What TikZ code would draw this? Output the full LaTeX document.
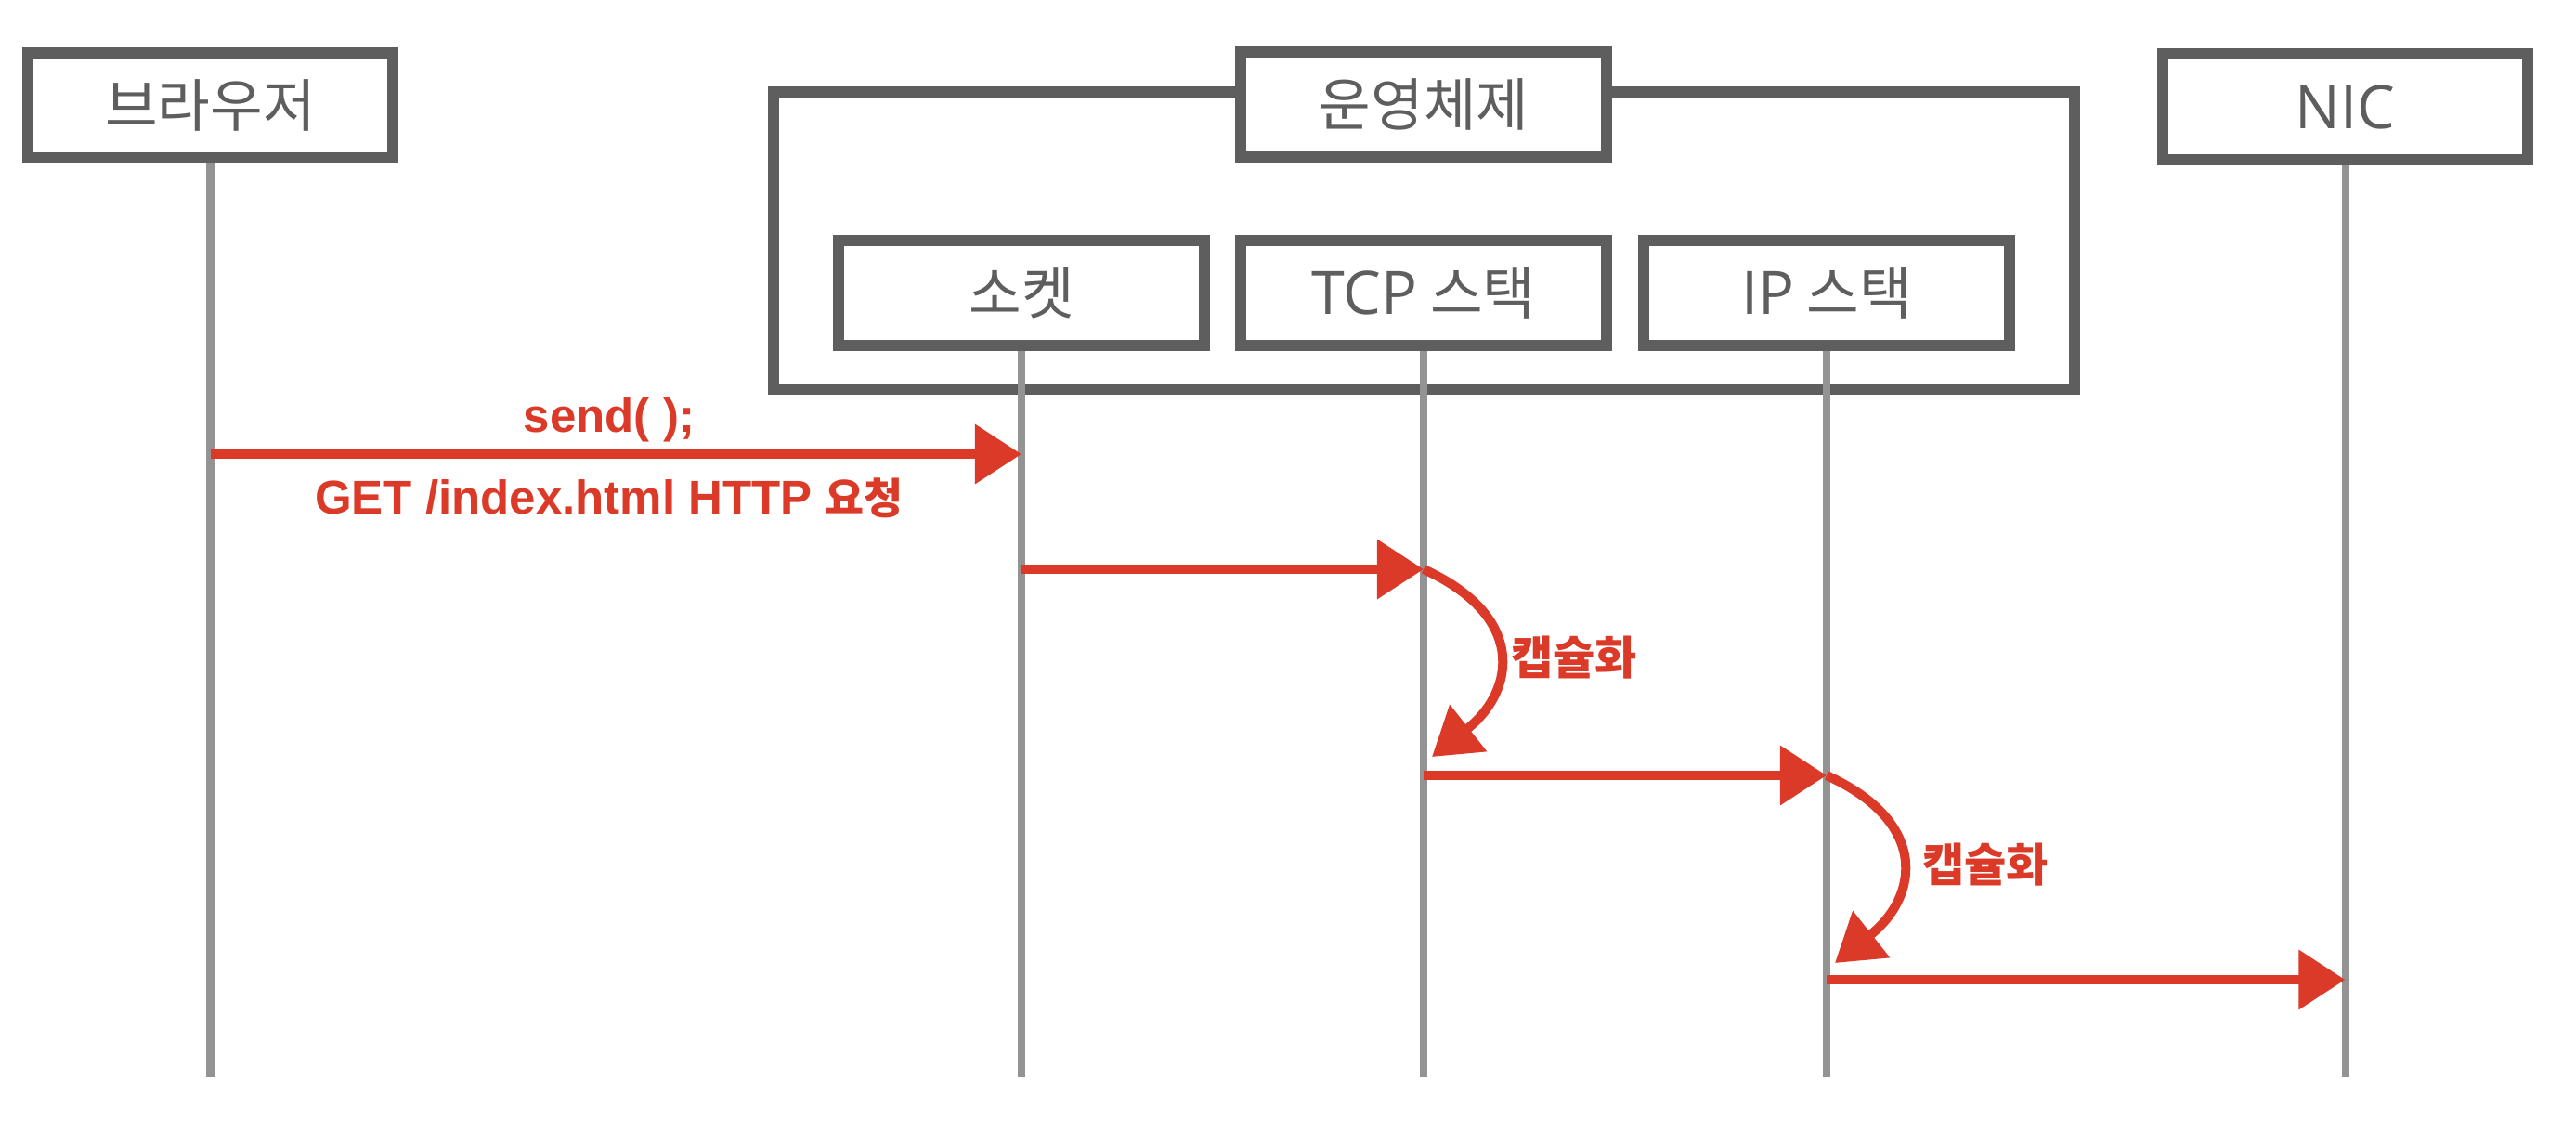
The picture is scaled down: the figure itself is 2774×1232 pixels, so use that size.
\documentclass[tikz,border=0pt]{standalone}
\usepackage{fontspec}
\setmainfont{Noto Sans CJK KR}
\newfontfamily\latf{Liberation Sans}
\newfontfamily\boxlat{Open Sans}[Scale=1.05]
\usetikzlibrary{arrows.meta,calc}
\definecolor{boxgray}{HTML}{5E5E5E}
\definecolor{lifegray}{HTML}{939393}
\definecolor{redc}{HTML}{DA3A27}
\tikzset{
  box/.style={draw=boxgray, line width=0.12cm, fill=white, minimum width=3.93cm,
    minimum height=1.13cm, inner sep=0pt, text=boxgray, font=\fontsize{17.5}{20}\selectfont},
  frame/.style={draw=boxgray, line width=0.12cm, inner sep=0pt, minimum width=14.01cm, minimum height=3.2cm},
  life/.style={draw=lifegray, line width=0.08cm},
  msg/.style={draw=redc, line width=0.1cm, -{Triangle[length=0.5cm,width=0.62cm]}},
  redlab/.style={text=redc, inner sep=0pt},
  latlab/.style={redlab, font=\latf\bfseries\fontsize{14.5}{17}\selectfont},
  krlab/.style={redlab, font=\bfseries\fontsize{14}{17}\selectfont}
}
\begin{document}
\begin{tikzpicture}[x=0.01cm,y=-0.01cm]
\useasboundingbox (0,0) rectangle (2774,1232);
% OS frame
\node[frame] (osframe) at (1533.5,259) {};
% boxes
\node[box] (brow) at (226.5,113.5) {브라우저};
\node[box] (os) at (1533,112.5) {운영체제};
\node[box] (nic) at (2525.5,115) {\boxlat NIC};
\node[box] (sock) at (1100,315.5) {소켓};
\node[box] (tcp) at (1533,315.5) {{\boxlat TCP} 스택};
\node[box] (ip) at (1967,315.5) {{\boxlat IP} 스택};
% reference heights
\coordinate (r1) at (0,489);
\coordinate (r2) at (0,613);
\coordinate (r3) at (0,835);
\coordinate (r4) at (0,1055);
\coordinate (bot) at (0,1160);
% lifelines
\foreach \n in {brow,sock,tcp,ip,nic}{
  \draw[life] (\n.south) -- (\n.south |- bot);
}
% messages
\draw[msg] (brow.south |- r1) -- (sock.south |- r1);
\draw[msg] (sock.south |- r2) -- (tcp.south |- r2);
\draw[msg] (tcp.south |- r2) .. controls +(110,50) and +(91,-72) .. ($(tcp.south |- r3)+(9,-20)$);
\draw[msg] (tcp.south |- r3) -- (ip.south |- r3);
\draw[msg] (ip.south |- r3) .. controls +(110,50) and +(91,-72) .. ($(ip.south |- r4)+(9,-18)$);
\draw[msg] (ip.south |- r4) -- (nic.south |- r4);
% labels
\node[latlab, anchor=base] (send) at (656,465) {send( );};
\node[latlab, anchor=base] (get) at (656,553) {GET /index.html HTTP {\rmfamily\bfseries\fontsize{13}{16}\selectfont 요청}};
\node[krlab] (cap1) at (1695,708) {캡슐화};
\node[krlab] (cap2) at (2138,931) {캡슐화};
\end{tikzpicture}
\end{document}
